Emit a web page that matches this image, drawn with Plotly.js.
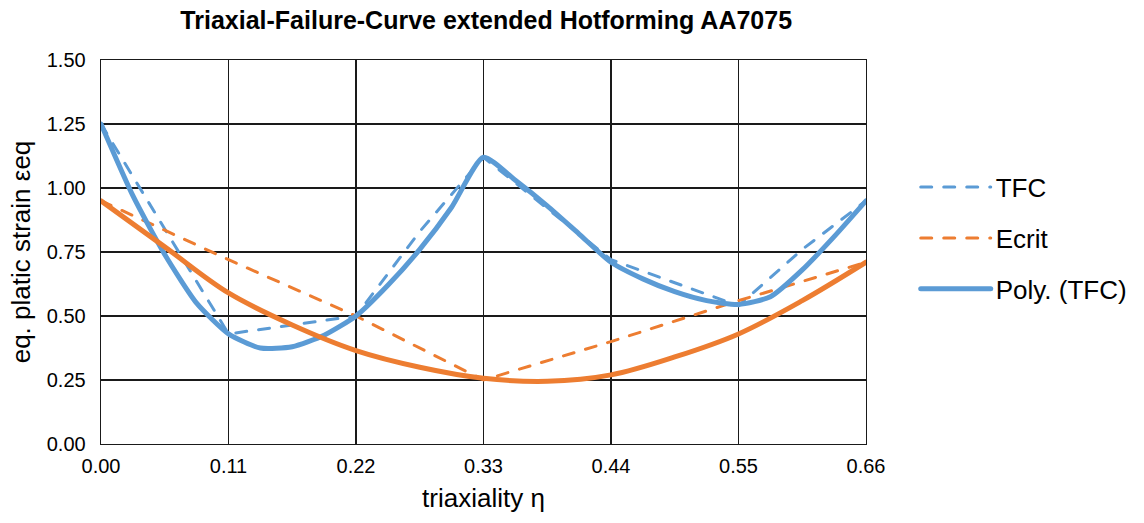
<!DOCTYPE html>
<html>
<head>
<meta charset="utf-8">
<script src="https://cdn.plot.ly/plotly-3.0.1.min.js"></script>
<style>
html,body{margin:0;padding:0;background:#fff;}
#chart{width:1144px;height:523px;}
#chart .js-line{stroke-linecap:round;}
</style>
</head>
<body>
<div id="chart"></div>
<script>
// TFC (dashed blue)
const tfcX = [0, 0.11, 0.22, 0.275, 0.33, 0.44, 0.495, 0.55, 0.605, 0.66];
const tfcY = [1.25, 0.43, 0.50, 0.83, 1.12, 0.72, 0.63, 0.54, 0.76, 0.95];
// Ecrit (dashed orange)
const ecritX = [0, 0.11, 0.22, 0.33, 0.44, 0.55, 0.66];
const ecritY = [0.95, 0.72, 0.50, 0.25, 0.40, 0.56, 0.71];
// Poly. (TFC) (solid blue)
const polyTfcX = [0, 0.0275, 0.055, 0.0825, 0.11, 0.1375, 0.165, 0.1925, 0.22, 0.2475, 0.275, 0.3025, 0.33,
                  0.3575, 0.385, 0.4125, 0.44, 0.4675, 0.495, 0.5225, 0.55, 0.5775, 0.605, 0.6325, 0.66];
const polyTfcY = [1.25, 0.97, 0.74, 0.55, 0.43, 0.375, 0.38, 0.425, 0.50, 0.62, 0.76, 0.925, 1.12,
                  1.03, 0.93, 0.82, 0.71, 0.645, 0.595, 0.56, 0.545, 0.575, 0.68, 0.81, 0.95];
// Poly. (Ecrit) (solid orange)
const polyEcritX = [0, 0.055, 0.11, 0.165, 0.22, 0.275, 0.33, 0.385, 0.44, 0.495, 0.55, 0.605, 0.66];
const polyEcritY = [0.95, 0.77, 0.59, 0.465, 0.365, 0.30, 0.257, 0.245, 0.27, 0.34, 0.43, 0.56, 0.71];
const xTicks = [0, 0.11, 0.22, 0.33, 0.44, 0.55, 0.66];
const xTickText = ["0.00", "0.11", "0.22", "0.33", "0.44", "0.55", "0.66"];
const yTicks = [0, 0.25, 0.5, 0.75, 1.0, 1.25, 1.5];
const yTickText = ["0.00", "0.25", "0.50", "0.75", "1.00", "1.25", "1.50"];

const BLUE = '#5B9BD5', ORANGE = '#ED7D31';
const FONT = 'Liberation Sans, Arial, sans-serif';
// the polynomial TFC curve has a cusp at its maximum: draw both sides smoothly
const peak = polyTfcY.indexOf(Math.max(...polyTfcY));
const traces = [
  {x: tfcX, y: tfcY, name: 'TFC', mode: 'lines', legendgroup: 'a',
   line: {color: BLUE, width: 3, dash: '11px,12px'}},
  {x: ecritX, y: ecritY, name: 'Ecrit', mode: 'lines', legendgroup: 'b',
   line: {color: ORANGE, width: 3, dash: '11px,12px'}},
  {x: polyTfcX.slice(0, peak + 1), y: polyTfcY.slice(0, peak + 1), name: 'Poly. (TFC)', mode: 'lines', legendgroup: 'c',
   line: {color: BLUE, width: 5, shape: 'spline', smoothing: 0.6}},
  {x: polyTfcX.slice(peak), y: polyTfcY.slice(peak), name: 'Poly. (TFC)', mode: 'lines', legendgroup: 'c', showlegend: false,
   line: {color: BLUE, width: 5, shape: 'spline', smoothing: 0.6}},
  {x: polyEcritX, y: polyEcritY, name: 'Poly. (Ecrit)', mode: 'lines', showlegend: false,
   line: {color: ORANGE, width: 5, shape: 'spline', smoothing: 1}}
];
const axisCommon = {
  showgrid: true, gridcolor: '#1a1a1a', gridwidth: 1.3,
  showline: true, linecolor: '#1a1a1a', linewidth: 1.3, mirror: true,
  zeroline: false, ticks: '', tickfont: {family: FONT, size: 20, color: '#000'}
};
const layout = {
  width: 1144, height: 523,
  margin: {l: 101, r: 276, t: 60, b: 79},
  paper_bgcolor: '#fff', plot_bgcolor: '#fff',
  font: {family: FONT, color: '#000'},
  title: {text: '<b>Triaxial-Failure-Curve extended Hotforming AA7075</b>',
          font: {size: 25, color: '#000', family: FONT},
          x: 0.425, xanchor: 'center', y: 0.962, yanchor: 'middle'},
  xaxis: Object.assign({}, axisCommon, {
    range: [0, 0.66], tickvals: xTicks, ticktext: xTickText, ticklabelstandoff: 4,
    title: {text: 'triaxiality η', font: {size: 26, color: '#000', family: FONT}, standoff: 12}
  }),
  yaxis: Object.assign({}, axisCommon, {
    range: [0, 1.5], tickvals: yTicks, ticktext: yTickText, ticklabelstandoff: 10,
    title: {text: 'eq. platic strain εeq', font: {size: 26, color: '#000', family: FONT}, standoff: 8}
  }),
  showlegend: true,
  legend: {x: 1.065, xanchor: 'left', y: 0.73, yanchor: 'top',
           font: {size: 26, color: '#000', family: FONT}, traceorder: 'grouped', tracegroupgap: 14,
           itemwidth: 70, bgcolor: 'rgba(0,0,0,0)'}
};
Plotly.newPlot('chart', traces, layout, {displayModeBar: false, staticPlot: true});
</script>
</body>
</html>
